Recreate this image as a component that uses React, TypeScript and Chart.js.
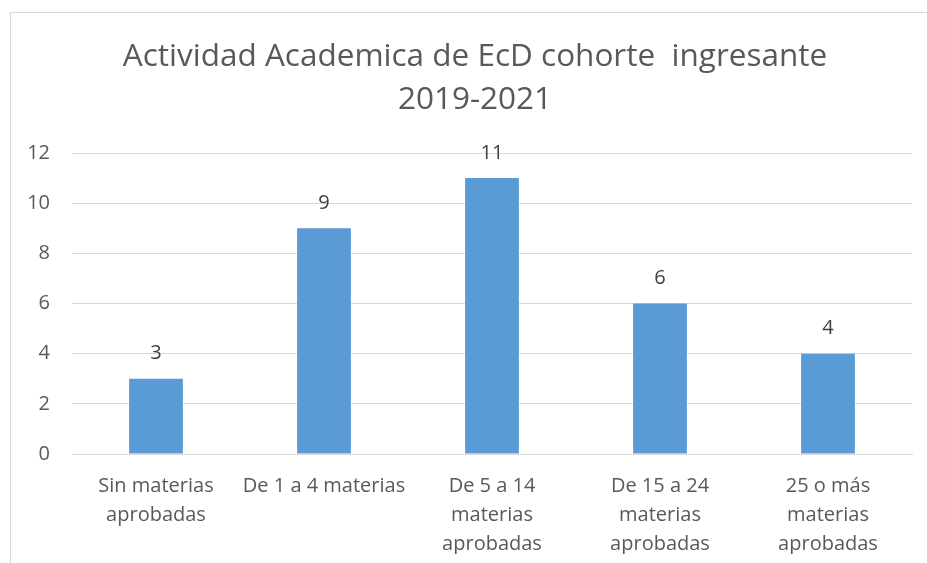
import React, { useEffect, useRef } from "react";
import { Chart, registerables } from "chart.js";

Chart.register(...registerables);

const categories: (string | string[])[] = [
  ["Sin materias", "aprobadas"],
  "De 1 a 4 materias",
  ["De 5 a 14", "materias", "aprobadas"],
  ["De 15 a 24", "materias", "aprobadas"],
  ["25 o más", "materias", "aprobadas"],
];
const values: number[] = [3, 9, 11, 6, 4];
const titleLines: string[] = ["Actividad Academica de EcD cohorte  ingresante", "2019-2021"];

const FONT = "'Open Sans', sans-serif";

const dataLabels = {
  id: "dataLabels",
  afterDatasetsDraw(chart: any) {
    const ctx = chart.ctx;
    const meta = chart.getDatasetMeta(0);
    ctx.save();
    ctx.font = `20px ${FONT}`;
    ctx.fillStyle = "#404040";
    ctx.textAlign = "center";
    ctx.textBaseline = "middle";
    meta.data.forEach((el: any, i: number) => {
      ctx.fillText(String(values[i]), el.x, el.y - 25);
    });
    ctx.restore();
  },
};

const titlePlugin = {
  id: "customTitle",
  afterDraw(chart: any) {
    const ctx = chart.ctx;
    ctx.save();
    ctx.font = `31.5px ${FONT}`;
    ctx.fillStyle = "#595959";
    ctx.textAlign = "center";
    ctx.textBaseline = "middle";
    titleLines.forEach((line, i) => {
      ctx.fillText(line, 475, 57 + i * 43);
    });
    ctx.restore();
  },
};

export default function App() {
  const ref = useRef<HTMLCanvasElement>(null);
  useEffect(() => {
    if (!ref.current) return;
    const chart = new Chart(ref.current, {
      type: "bar",
      data: {
        labels: categories,
        datasets: [
          {
            data: values,
            backgroundColor: "#5B9BD5",
            categoryPercentage: 1,
            barPercentage: 0.32,
          },
        ],
      },
      options: {
        responsive: false,
        animation: false,
        layout: { padding: { left: 10, right: 15, top: 153, bottom: 9 } },
        plugins: {
          legend: { display: false },
          tooltip: { enabled: false },
          title: { display: false },
        },
        scales: {
          y: {
            min: 0,
            max: 12,
            ticks: {
              stepSize: 2,
              color: "#595959",
              font: { family: FONT, size: 20 },
              padding: 22,
            },
            grid: { color: "#d9d9d9", drawTicks: false },
            border: { display: false },
            afterFit: (s: any) => {
              s.width = 62;
            },
          },
          x: {
            ticks: {
              color: "#595959",
              font: { family: FONT, size: 20, lineHeight: 1.45 },
              padding: 18,
              maxRotation: 0,
              autoSkip: false,
            },
            grid: { display: false, drawTicks: false },
            border: { display: true, color: "#d9d9d9" },
            afterFit: (s: any) => {
              s.height = 100;
            },
          },
        },
      },
      plugins: [dataLabels, titlePlugin],
    });
    return () => chart.destroy();
  }, []);

  return (
    <div
      style={{
        position: "fixed",
        left: 0,
        top: 0,
        width: 927,
        height: 563,
        overflow: "hidden",
        background: "#fff",
      }}
    >
      <div
        style={{
          position: "absolute",
          left: 10,
          top: 12,
          width: 940,
          height: 580,
          border: "1px solid #d9d9d9",
          boxSizing: "border-box",
        }}
      />
      <canvas
        ref={ref}
        width={927}
        height={563}
        style={{ position: "absolute", left: 0, top: 0, width: 927, height: 563 }}
      />
    </div>
  );
}
